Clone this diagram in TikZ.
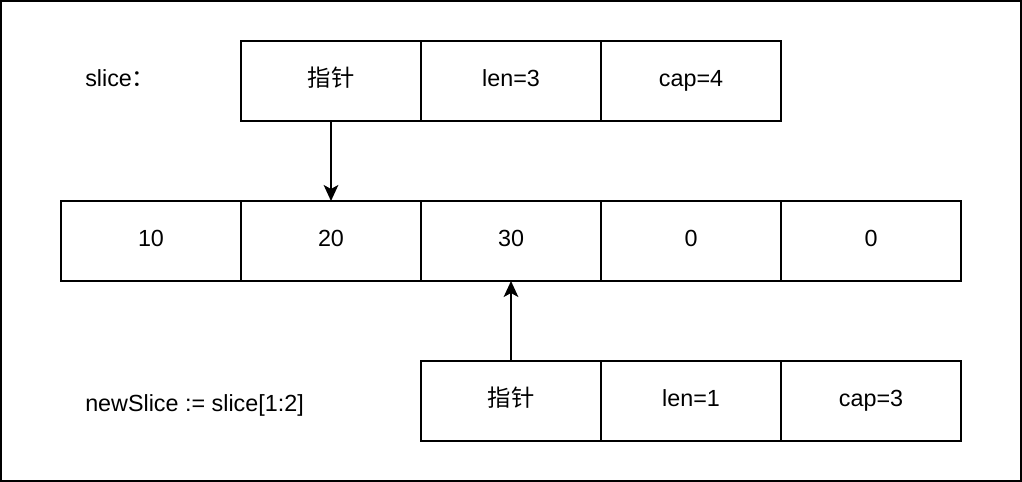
\documentclass[tikz,border=0pt]{standalone}
\usepackage{fontspec}
\setmainfont{Liberation Sans}
\newfontfamily\cjk{Noto Sans CJK SC}
\usetikzlibrary{arrows.meta}
\begin{document}
\begin{tikzpicture}[x=0.75pt, y=-0.75pt, font=\fontsize{17.5}{21}\selectfont,
    cell/.style={draw, line width=1.5pt, minimum width=135pt, minimum height=60pt, inner sep=0pt, outer sep=0pt, text height=8pt, text depth=0pt},
    label/.style={anchor=west, inner sep=0pt, text height=8pt, text depth=0pt},
    pointer/.style={line width=1.5pt, -{Stealth[length=12pt, width=11pt, inset=3pt]}}]
    \useasboundingbox (0,0) rectangle (1022,482);
    % Outer frame
    \draw[line width=1.5pt] (1,1) rectangle (1021,481);

    % Slice header
    \node[label] (slicelabel) at (85,81) {slice{\cjk ：}};
    \node[cell] (ptr) at (331,81) {\cjk 指针};
    \node[cell] (len) at (511,81) {len=3};
    \node[cell] (cap) at (691,81) {cap=4};

    % Underlying array
    \node[cell] (a0) at (151,241) {10};
    \node[cell] (a1) at (331,241) {20};
    \node[cell] (a2) at (511,241) {30};
    \node[cell] (a3) at (691,241) {0};
    \node[cell] (a4) at (871,241) {0};

    % New slice header
    \node[label] (newlabel) at (85,406) {newSlice := slice[1:2]};
    \node[cell] (nptr) at (511,401) {\cjk 指针};
    \node[cell] (nlen) at (691,401) {len=1};
    \node[cell] (ncap) at (871,401) {cap=3};

    % Pointers into the array
    \draw[pointer] (ptr) -- (a1);
    \draw[pointer] (nptr) -- (a2);
\end{tikzpicture}
\end{document}
